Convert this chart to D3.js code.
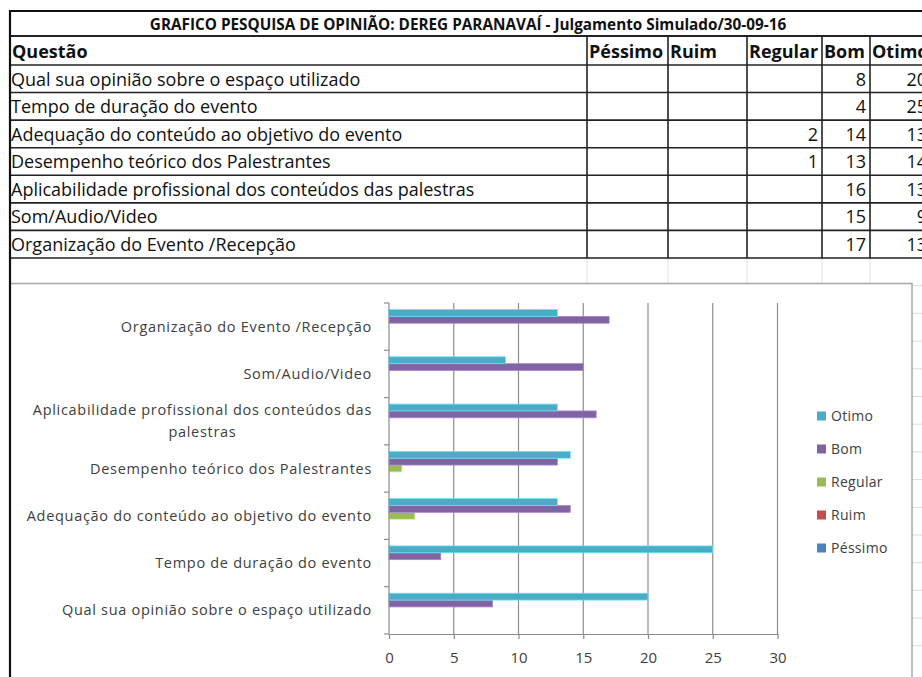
<!DOCTYPE html>
<html>
<head>
<meta charset="utf-8">
<title>Pesquisa de opinião - DEREG Paranavaí</title>
<script src="https://cdn.jsdelivr.net/npm/d3@7"></script>
<style>
  body { margin: 0; background: #fff; }
  svg { display: block; }
  .cell { font-family: "Open Sans", sans-serif; font-size: 18px; fill: #111; }
  .head { font-weight: bold; }
  .title { font-family: "Open Sans", sans-serif; font-size: 15.3px; font-weight: bold; fill: #111; }
  .chart text { font-family: "Open Sans", sans-serif; fill: #404040; }
</style>
</head>
<body>
<svg width="922" height="677"></svg>
<script>
// --- data ---
var title = "GRAFICO PESQUISA DE OPINIÃO: DEREG PARANAVAÍ - Julgamento Simulado/30-09-16";
var firstHeader = "Questão";
var categories = [
  "Qual sua opinião sobre o espaço utilizado",
  "Tempo de duração do evento",
  "Adequação do conteúdo ao objetivo do evento",
  "Desempenho teórico dos Palestrantes",
  "Aplicabilidade profissional dos conteúdos das palestras",
  "Som/Audio/Video",
  "Organização do Evento /Recepção"
];
var seriesNames = ["Péssimo", "Ruim", "Regular", "Bom", "Otimo"];
var pessimo = [null, null, null, null, null, null, null];
var ruim    = [null, null, null, null, null, null, null];
var regular = [null, null, 2, 1, null, null, null];
var bom     = [8, 4, 14, 13, 16, 15, 17];
var otimo   = [20, 25, 13, 14, 13, 9, 13];
var xTicks = [0, 5, 10, 15, 20, 25, 30];

var seriesValues = { "Péssimo": pessimo, "Ruim": ruim, "Regular": regular, "Bom": bom, "Otimo": otimo };
var color = d3.scaleOrdinal()
  .domain(seriesNames)
  .range(["#4F81BD", "#C0504D", "#9BBB59", "#8064A2", "#4BACC6"]);

var svg = d3.select("svg");

// --- spreadsheet table ---
var colEdges = [10, 587, 668, 747, 822, 870, 931];
var tableTop = 11, titleBottom = 36, headBottom = 65, rowH = 27.57;
var rowLines = d3.range(categories.length + 1).map(function(i) { return headBottom + i * rowH; });
var tableBottom = rowLines[rowLines.length - 1];

var sheet = svg.append("g");

// faint sheet gridlines below the table
sheet.selectAll(".vfaint")
  .data(colEdges.slice(1, -1))
  .enter().append("line")
  .attr("x1", function(d) { return d; }).attr("x2", function(d) { return d; })
  .attr("y1", tableBottom).attr("y2", 283)
  .attr("stroke", "#e2e2e2");
sheet.selectAll(".hfaint")
  .data(d3.range(1, 15).map(function(i) { return tableBottom + i * 27.7; }))
  .enter().append("line")
  .attr("x1", 912).attr("x2", 922)
  .attr("y1", function(d) { return d; }).attr("y2", function(d) { return d; })
  .attr("stroke", "#dcdcdc");

// table text
sheet.append("text").attr("class", "title")
  .attr("x", 468).attr("y", 30).attr("text-anchor", "middle")
  .text(title);

var header = [firstHeader].concat(seriesNames);
sheet.selectAll(".hcell")
  .data(header)
  .enter().append("text")
  .attr("class", "cell head")
  .attr("x", function(d, i) { return colEdges[i] + 2; })
  .attr("y", headBottom - 7)
  .text(function(d) { return d; });

categories.forEach(function(c, r) {
  var yb = rowLines[r + 1] - 7;
  sheet.append("text").attr("class", "cell")
    .attr("x", colEdges[0] + 1).attr("y", yb).text(c);
  seriesNames.forEach(function(s, j) {
    var v = seriesValues[s][r];
    if (v == null) return;
    sheet.append("text").attr("class", "cell")
      .attr("x", colEdges[j + 2] - 4).attr("y", yb)
      .attr("text-anchor", "end").text(v);
  });
});

// table lines
sheet.append("line").attr("x1", 9).attr("x2", 922).attr("y1", tableTop).attr("y2", tableTop)
  .attr("stroke", "#111").attr("stroke-width", 2);
sheet.append("line").attr("x1", 10).attr("x2", 922).attr("y1", titleBottom).attr("y2", titleBottom)
  .attr("stroke", "#222").attr("stroke-width", 2);
sheet.selectAll(".hline")
  .data(rowLines)
  .enter().append("line")
  .attr("x1", 10).attr("x2", 922)
  .attr("y1", function(d) { return d; }).attr("y2", function(d) { return d; })
  .attr("stroke", "#222").attr("stroke-width", 1.6);
sheet.selectAll(".vline")
  .data(colEdges.slice(1, -1))
  .enter().append("line")
  .attr("x1", function(d) { return d; }).attr("x2", function(d) { return d; })
  .attr("y1", titleBottom).attr("y2", tableBottom)
  .attr("stroke", "#222").attr("stroke-width", 1.6);

// --- chart ---
var chart = svg.append("g").attr("class", "chart");
chart.append("rect")
  .attr("x", 10).attr("y", 283.5).attr("width", 902).attr("height", 420)
  .attr("fill", "#fff").attr("stroke", "#a6a6a6").attr("stroke-width", 1.5);

var plot = { left: 389, right: 777.5, top: 303, bottom: 634 };

var x = d3.scaleLinear().domain([0, 30]).range([plot.left, plot.right]);
var y = d3.scaleBand()
  .domain(categories.slice().reverse())
  .range([plot.top, plot.bottom])
  .padding(0);
var inner = d3.scaleBand()
  .domain(seriesNames.slice().reverse())
  .range([0, y.bandwidth()])
  .paddingInner(0)
  .paddingOuter(0.95);

// vertical gridlines
chart.selectAll(".grid")
  .data(xTicks.slice(1))
  .enter().append("line")
  .attr("x1", function(d) { return x(d); }).attr("x2", function(d) { return x(d); })
  .attr("y1", plot.top).attr("y2", plot.bottom)
  .attr("stroke", "#8c8c8c").attr("stroke-width", 1.2);

// bars
var bars = chart.append("g");
seriesNames.forEach(function(s) {
  bars.selectAll(null)
    .data(categories.map(function(c, i) { return { cat: c, value: seriesValues[s][i] }; })
      .filter(function(d) { return d.value != null; }))
    .enter().append("rect")
    .attr("x", x(0))
    .attr("y", function(d) { return y(d.cat) + inner(s); })
    .attr("width", function(d) { return x(d.value) - x(0); })
    .attr("height", inner.bandwidth())
    .attr("fill", color(s))
    .attr("stroke", d3.color(color(s)).brighter(0.8))
    .attr("stroke-width", 0.8);
});

// x axis
var xAxis = chart.append("g")
  .attr("transform", "translate(0," + plot.bottom + ")")
  .call(d3.axisBottom(x).tickValues(xTicks).tickSize(5).tickPadding(13).tickSizeOuter(0));
xAxis.select(".domain").attr("stroke", "#8c8c8c").attr("stroke-width", 1.2);
xAxis.selectAll(".tick line").attr("stroke", "#8c8c8c").attr("stroke-width", 1.2);
xAxis.selectAll(".tick text").attr("font-size", 15).attr("fill", "#404040")
  .attr("font-family", "'Open Sans', sans-serif");

// y axis line with ticks at band boundaries
var yAxis = chart.append("g");
yAxis.append("line")
  .attr("x1", x(0)).attr("x2", x(0)).attr("y1", plot.top).attr("y2", plot.bottom)
  .attr("stroke", "#8c8c8c").attr("stroke-width", 1.2);
var boundaries = categories.map(function(c) { return y(c); }).concat([plot.bottom]);
yAxis.selectAll(".ytick")
  .data(boundaries)
  .enter().append("line")
  .attr("x1", x(0) - 5).attr("x2", x(0))
  .attr("y1", function(d) { return d; }).attr("y2", function(d) { return d; })
  .attr("stroke", "#8c8c8c").attr("stroke-width", 1.2);

// category labels, wrapped and centered as a block right-aligned to the axis
var labelRight = x(0) - 17, maxLabelW = 362, lineH = 22;
var labelSize = 14.5, labelSpacing = 0.7;
categories.forEach(function(c) {
  var words = c.split(" "), lines = [], cur = [];
  var probe = chart.append("text").attr("font-size", labelSize).attr("letter-spacing", labelSpacing);
  words.forEach(function(w) {
    var t = cur.concat([w]).join(" ");
    probe.text(t);
    if (probe.node().getComputedTextLength() > maxLabelW && cur.length) {
      lines.push(cur.join(" "));
      cur = [w];
    } else cur.push(w);
  });
  lines.push(cur.join(" "));
  var widths = lines.map(function(l) { probe.text(l); return probe.node().getComputedTextLength(); });
  probe.remove();
  var blockW = d3.max(widths);
  var cy = y(c) + y.bandwidth() / 2 - (lines.length - 1) * lineH / 2;
  var t = chart.append("text").attr("font-size", labelSize).attr("letter-spacing", labelSpacing)
    .attr("text-anchor", "middle");
  lines.forEach(function(l, i) {
    t.append("tspan")
      .attr("x", labelRight - blockW / 2)
      .attr("y", cy + i * lineH)
      .attr("dy", "0.35em")
      .text(l);
  });
});

// legend
var legendItems = seriesNames.slice().reverse();
var legend = chart.append("g").attr("transform", "translate(817,416)");
var li = legend.selectAll("g")
  .data(legendItems)
  .enter().append("g")
  .attr("transform", function(d, i) { return "translate(0," + i * 33 + ")"; });
li.append("rect")
  .attr("x", 0).attr("y", -4.5).attr("width", 9).attr("height", 9)
  .attr("fill", function(d) { return color(d); });
li.append("text")
  .attr("x", 14).attr("dy", "0.35em").attr("font-size", 14).attr("letter-spacing", 0.3)
  .text(function(d) { return d; });

// left border of the sheet area
svg.append("line").attr("x1", 10).attr("x2", 10).attr("y1", 10).attr("y2", 677)
  .attr("stroke", "#111").attr("stroke-width", 2.2);
</script>
</body>
</html>
